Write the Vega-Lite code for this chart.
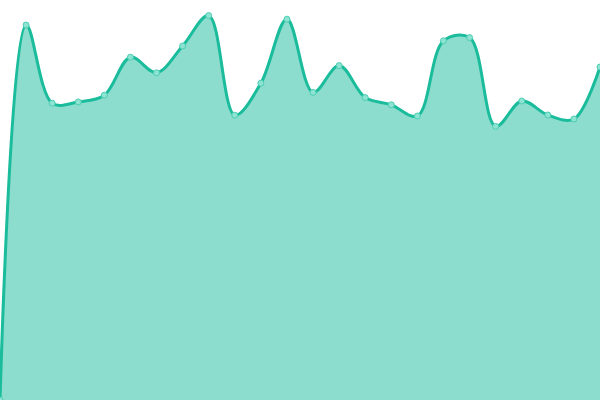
{
  "$schema": "https://vega.github.io/schema/vega-lite/v6.json",
  "width": 600,
  "height": 400,
  "autosize": {"type": "none"},
  "padding": 0,
  "background": "white",
  "config": {"view": {"stroke": null}},
  "data": {"values": [
    {"i": 0, "v": 0},
    {"i": 1, "v": 93.75},
    {"i": 2, "v": 74.2},
    {"i": 3, "v": 74.5},
    {"i": 4, "v": 76.2},
    {"i": 5, "v": 85.7},
    {"i": 6, "v": 81.8},
    {"i": 7, "v": 88.5},
    {"i": 8, "v": 96.1},
    {"i": 9, "v": 71.2},
    {"i": 10, "v": 79.2},
    {"i": 11, "v": 95.2},
    {"i": 12, "v": 76.9},
    {"i": 13, "v": 83.6},
    {"i": 14, "v": 75.6},
    {"i": 15, "v": 73.8},
    {"i": 16, "v": 71.0},
    {"i": 17, "v": 89.8},
    {"i": 18, "v": 90.6},
    {"i": 19, "v": 68.4},
    {"i": 20, "v": 74.75},
    {"i": 21, "v": 71.25},
    {"i": 22, "v": 70.25},
    {"i": 23, "v": 83.25}
  ]},
  "encoding": {
    "x": {"field": "i", "type": "quantitative", "axis": null, "scale": {"domain": [0, 23], "nice": false, "zero": false}},
    "y": {"field": "v", "type": "quantitative", "axis": null, "scale": {"domain": [0, 100], "nice": false}}
  },
  "layer": [
    {"mark": {"type": "area", "interpolate": "catmull-rom", "color": "#1abc9c", "fillOpacity": 0.5, "line": {"color": "#1abc9c", "strokeWidth": 3}}},
    {"mark": {"type": "point", "filled": true, "size": 36, "fill": "#8ee3d2", "stroke": "#4ccfb3", "strokeWidth": 1, "opacity": 1}}
  ]
}
